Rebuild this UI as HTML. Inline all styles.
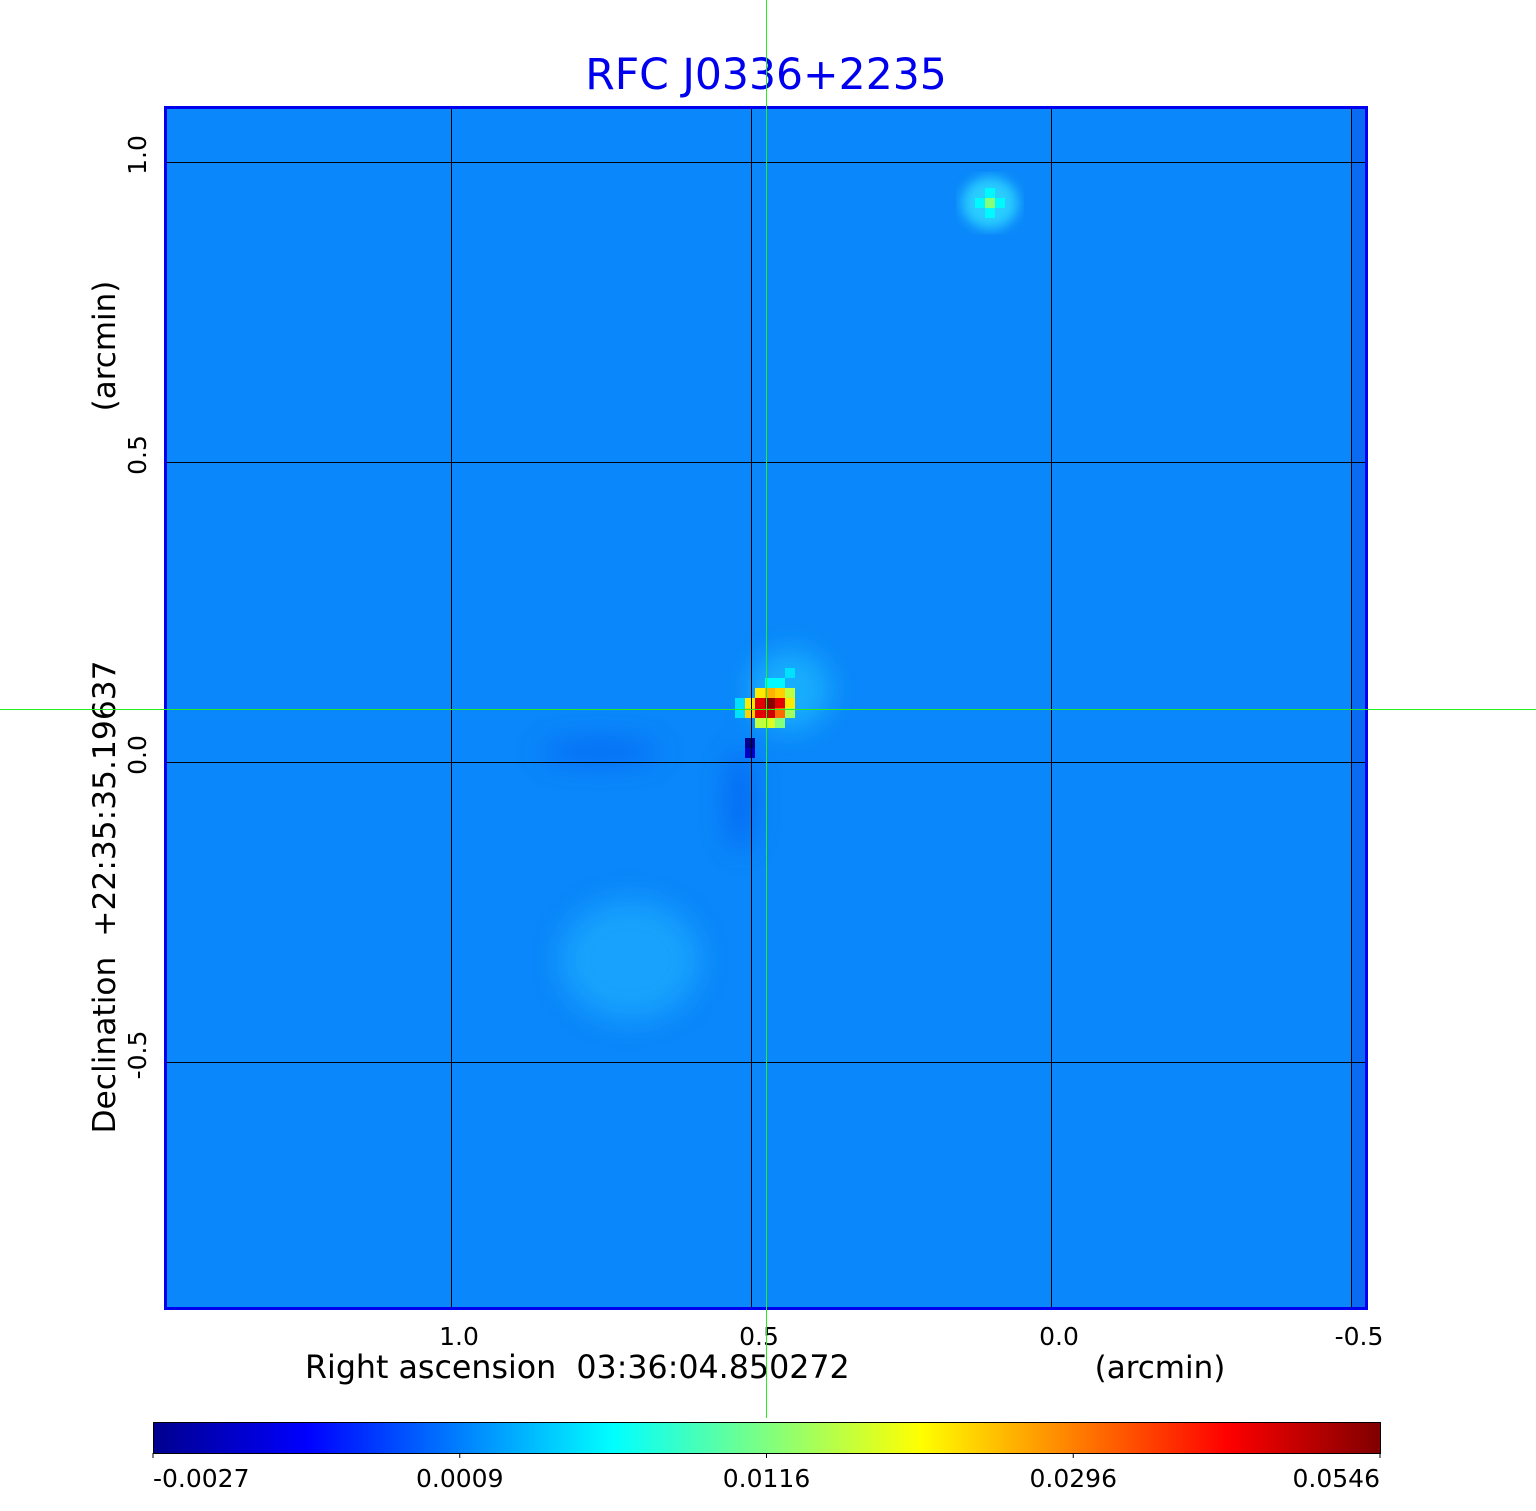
<!DOCTYPE html>
<html><head><meta charset="utf-8"><style>
html,body{margin:0;padding:0;background:#fff;}
svg{display:block;font-family:"DejaVu Sans","Liberation Sans",sans-serif;}
</style></head><body>
<svg id="chart" width="1536" height="1511" viewBox="0 0 1536 1511" xmlns="http://www.w3.org/2000/svg" xml:space="preserve">
<defs>
<linearGradient id="jet" x1="0" x2="1" y1="0" y2="0">
<stop offset="0" stop-color="#00008f"/><stop offset="0.125" stop-color="#0000ff"/>
<stop offset="0.375" stop-color="#00ffff"/><stop offset="0.625" stop-color="#ffff00"/>
<stop offset="0.875" stop-color="#ff0000"/><stop offset="1" stop-color="#800000"/>
</linearGradient>
<clipPath id="plotclip"><rect x="166" y="109" width="1200" height="1199"/></clipPath>
<filter id="blur"><feGaussianBlur stdDeviation="14"/></filter>
<filter id="blur2"><feGaussianBlur stdDeviation="6"/></filter>
</defs>
<text x="766" y="89" font-size="42.5" fill="#0000ee" text-anchor="middle">RFC J0336+2235</text>
<g id="plot" clip-path="url(#plotclip)">
<rect x="165" y="107" width="1202" height="1202" fill="#0a87fa"/>
<rect x="1352" y="107" width="15" height="1202" fill="#0a6af2"/>
<g filter="url(#blur)" opacity="0.6">
<ellipse cx="630" cy="960" rx="70" ry="60" fill="#22b4ff"/>
<ellipse cx="790" cy="690" rx="40" ry="40" fill="#22c8ff"/>
<ellipse cx="600" cy="752" rx="60" ry="10" fill="#0650ee"/>
<ellipse cx="740" cy="800" rx="12" ry="50" fill="#0650ee"/>
</g>
<ellipse cx="990" cy="203" rx="28" ry="26" fill="#30e0ff" opacity="0.8" filter="url(#blur2)"/>
<g id="cells"></g>
</g>
<g id="grid"></g>
<rect x="165.5" y="107.5" width="1201" height="1201" fill="none" stroke="#0000ee" stroke-width="3"/>
<g id="xticks"></g>
<g id="yticks"></g>
<text x="305" y="1378" font-size="31.7" fill="#000">Right ascension&#160;&#160;03:36:04.850272</text>
<text x="1160" y="1378" font-size="31" fill="#000" text-anchor="middle">(arcmin)</text>
<text transform="translate(115,897) rotate(-90)" font-size="31.3" fill="#000" text-anchor="middle">Declination&#160;&#160;+22:35:35.19637</text>
<text transform="translate(115,346) rotate(-90)" font-size="31" fill="#000" text-anchor="middle">(arcmin)</text>
<rect x="153.5" y="1422.5" width="1227" height="31" fill="url(#jet)" stroke="#000" stroke-width="1"/>
<g id="cbticks"></g>
<rect x="766" y="0" width="1" height="1418" fill="#22ee22"/>
<rect x="0" y="709" width="1536" height="1" fill="#22ee22"/>
</svg>
<script>
// Axis data (arcmin offsets)
const xTickValues = [1.0, 0.5, 0.0, -0.5];
const xTickLabels = ["1.0", "0.5", "0.0", "-0.5"];
const yTickValues = [1.0, 0.5, 0.0, -0.5];
const yTickLabels = ["1.0", "0.5", "0.0", "-0.5"];
const cbTickValues = [-0.0027, 0.0009, 0.0116, 0.0296, 0.0546];
const cbTickLabels = ["-0.0027", "0.0009", "0.0116", "0.0296", "0.0546"];
// Bright pixels: column, row (pixel index), flux
const cellCols = [59,60,61,62, 58,59,60,61,62, 58,59,60,61,62, 59,60,61, 58,58, 82,81,83,82,82, 60,61,62, 57,57];
const cellRows = [58,58,58,58, 59,59,59,59,59, 60,60,60,60,60, 61,61,61, 63,64, 9,9,9,8,10, 57,57,56, 59,60];
const cellVals = [0.022,0.026,0.024,0.016, 0.022,0.045,0.054,0.045,0.022, 0.024,0.045,0.047,0.032,0.014, 0.016,0.018,0.012, -0.0027,-0.0018, 0.012,0.006,0.006,0.006,0.006, 0.006,0.006,0.005, 0.005,0.005];

const NS="http://www.w3.org/2000/svg";
const X0=165, Y0=108, CELL=10;
function xScale(v){ return 1051 + (0 - v) * 600; }
function yScale(v){ return 762 - v * 600; }
function cbScale(i){ return 153 + i * (1227/(cbTickValues.length-1)); }
function fracOf(v){
  for(let i=0;i<cbTickValues.length-1;i++){
    if(v<=cbTickValues[i+1]){ const t=(v-cbTickValues[i])/(cbTickValues[i+1]-cbTickValues[i]); return Math.max(0,(i+t)/(cbTickValues.length-1)); }
  }
  return 1;
}
function jet(f){
  const stops=[[0,0,0,143],[0.125,0,0,255],[0.375,0,255,255],[0.625,255,255,0],[0.875,255,0,0],[1,128,0,0]];
  for(let i=0;i<stops.length-1;i++){const a=stops[i],b=stops[i+1];
    if(f<=b[0]){const t=(f-a[0])/(b[0]-a[0]);return `rgb(${Math.round(a[1]+t*(b[1]-a[1]))},${Math.round(a[2]+t*(b[2]-a[2]))},${Math.round(a[3]+t*(b[3]-a[3]))})`;}}
  return "rgb(128,0,0)";
}
const cg=document.getElementById('cells');
for(let i=0;i<cellVals.length;i++){
  const r=document.createElementNS(NS,'rect');
  r.setAttribute('x',X0+cellCols[i]*CELL); r.setAttribute('y',Y0+cellRows[i]*CELL);
  r.setAttribute('width',CELL); r.setAttribute('height',CELL);
  r.setAttribute('fill',jet(fracOf(cellVals[i])));
  
  
  cg.appendChild(r);
}
const gg=document.getElementById('grid');
xTickValues.forEach((v,i)=>{
  const x=Math.round(xScale(v))+0.5;
  const l=document.createElementNS(NS,'line');
  l.setAttribute('x1',x);l.setAttribute('x2',x);l.setAttribute('y1',108);l.setAttribute('y2',1308);
  l.setAttribute('stroke','#000');l.setAttribute('stroke-width','1');
  
  
  gg.appendChild(l);
  const t=document.createElementNS(NS,'text');
  t.setAttribute('x',xScale(v)+8);t.setAttribute('y',1345);t.setAttribute('font-size','25');t.setAttribute('text-anchor','middle');
  t.textContent=xTickLabels[i];
  
  
  document.getElementById('xticks').appendChild(t);
});
yTickValues.forEach((v,i)=>{
  const y=Math.round(yScale(v))+0.5;
  const l=document.createElementNS(NS,'line');
  l.setAttribute('x1',166);l.setAttribute('x2',1366);l.setAttribute('y1',y);l.setAttribute('y2',y);
  l.setAttribute('stroke','#000');l.setAttribute('stroke-width','1');
  
  
  gg.appendChild(l);
  const t=document.createElementNS(NS,'text');
  t.setAttribute('transform',`translate(146,${yScale(v)-7}) rotate(-90)`);t.setAttribute('font-size','25');t.setAttribute('text-anchor','middle');
  t.textContent=yTickLabels[i];
  
  
  document.getElementById('yticks').appendChild(t);
});
const cb=document.getElementById('cbticks');
cbTickValues.forEach((v,i)=>{
  const x=cbScale(i);
  const l=document.createElementNS(NS,'line');
  l.setAttribute('x1',x);l.setAttribute('x2',x);l.setAttribute('y1',1453);l.setAttribute('y2',1458);l.setAttribute('stroke','#000');
  
  
  cb.appendChild(l);
  const t=document.createElementNS(NS,'text');
  const last=i===cbTickValues.length-1;
  t.setAttribute('x', x);
  t.setAttribute('text-anchor', i===0 ? 'start' : (last ? 'end' : 'middle'));
  t.setAttribute('y',1487);t.setAttribute('font-size','25');
  t.textContent=cbTickLabels[i];
  
  
  cb.appendChild(t);
});
</script>
</body></html>
